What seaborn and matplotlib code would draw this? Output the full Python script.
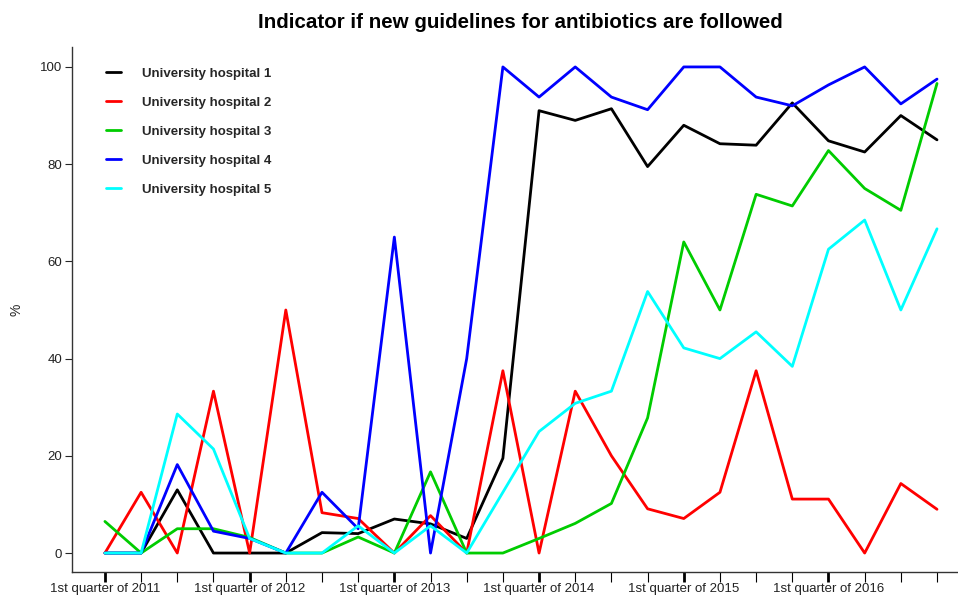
import matplotlib
matplotlib.use("Agg")
import matplotlib.pyplot as plt
import numpy as np
import pandas as pd
import seaborn as sns
from matplotlib.ticker import FixedLocator

# quarters 2011 Q1 .. 2016 Q4
quarters = [f"Q{q} {y}" for y in range(2011, 2017) for q in range(1, 5)]
tick_labels = ["1st quarter of 2011", "1st quarter of 2012", "1st quarter of 2013",
               "1st quarter of 2014", "1st quarter of 2015", "1st quarter of 2016"]

hosp1 = [0, 0, 13, 0, 0, 0, 4.2, 4, 7, 6, 3, 19.5,
         91, 89, 91.4, 79.5, 88, 84.2, 83.9, 92.6, 84.8, 82.5, 90, 85]
hosp2 = [0, 12.5, 0, 33.3, 0, 50, 8.3, 7.1, 0, 7.7, 0, 37.5,
         0, 33.3, 20, 9.1, 7.1, 12.5, 37.5, 11.1, 11.1, 0, 14.3, 9]
hosp3 = [6.5, 0, 5, 5, 3.2, 0, 0, 3.3, 0, 16.7, 0, 0,
         3, 6.1, 10.2, 27.8, 64, 50, 73.8, 71.4, 82.8, 75, 70.5, 96.6]
hosp4 = [0, 0, 18.2, 4.5, 3, 0, 12.5, 5, 65, 0, 40, 100,
         93.8, 100, 93.8, 91.2, 100, 100, 93.8, 92, 96.3, 100, 92.4, 97.5]
hosp5 = [0, 0, 28.6, 21.4, 3, 0, 0, 5.6, 0, 5.6, 0, 12.5,
         25, 30.8, 33.3, 53.8, 42.2, 40, 45.5, 38.4, 62.5, 68.5, 50, 66.7]

names = ["University hospital 1", "University hospital 2", "University hospital 3",
         "University hospital 4", "University hospital 5"]
colors = ["black", "#ff0000", "#00cc00", "#0000ff", "#00ffff"]

frames = []
for name, vals in zip(names, [hosp1, hosp2, hosp3, hosp4, hosp5]):
    frames.append(pd.DataFrame({"idx": np.arange(len(quarters)), "value": vals, "hospital": name}))
df = pd.concat(frames, ignore_index=True)

sns.set_style("white")
plt.rcParams["font.family"] = ["Liberation Sans", "DejaVu Sans"]

fig = plt.figure(figsize=(9.58, 5.97), dpi=100)
ax = fig.add_axes([72 / 958, 25 / 597, 886 / 958, 525 / 597])

sns.lineplot(data=df, x="idx", y="value", hue="hospital", palette=colors,
             linewidth=2.0, ax=ax, legend=True)

ax.set_xlim(-0.91, 23.58)
ax.set_ylim(-3.9, 104.1)

ax.xaxis.set_major_locator(FixedLocator(range(0, 24, 4)))
ax.set_xticklabels(tick_labels)
ax.xaxis.set_minor_locator(FixedLocator([i for i in range(24) if i % 4 != 0]))
ax.tick_params(axis="x", which="major", length=7, width=2, direction="out",
               labelsize=9.5, pad=1, colors="black", labelcolor="#222222", bottom=True)
ax.tick_params(axis="x", which="minor", length=7, width=0.8, direction="out",
               colors="black", bottom=True)
ax.set_yticks([0, 20, 40, 60, 80, 100])
ax.tick_params(axis="y", length=5, width=0.8, direction="out", labelsize=9.5,
               pad=2, labelcolor="#222222", left=True)

for side in ["top", "right"]:
    ax.spines[side].set_visible(False)
for side in ["left", "bottom"]:
    ax.spines[side].set_color("#333333")
    ax.spines[side].set_linewidth(1.0)

ax.set_xlabel("")
ax.set_ylabel("%", fontsize=10)
ax.yaxis.set_label_coords(-0.055, 0.5)

fig.suptitle("Indicator if new guidelines for antibiotics are followed",
             fontsize=14.8, fontweight="bold", color="black", x=520 / 958, y=0.978)

leg = ax.legend(frameon=False, loc="upper left", bbox_to_anchor=(0.025, 0.984),
                handlelength=1.15, handletextpad=1.6, labelspacing=1.28,
                prop={"weight": "bold", "size": 9.5})
for line in leg.get_lines():
    line.set_linewidth(2.0)

fig.savefig("out.png", dpi=100)
